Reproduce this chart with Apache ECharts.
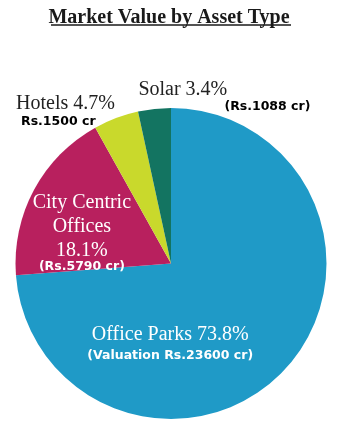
<!DOCTYPE html>
<html><head><meta charset="utf-8">
<script src="https://cdn.jsdelivr.net/npm/echarts@6/dist/echarts.min.js"></script>
<style>html,body{margin:0;padding:0;background:#fff}#c{width:338px;height:429px}</style>
</head><body><div id="c"></div>
<script>
const titleText = 'Market Value by Asset Type';
const categories = ['Office Parks', 'City Centric Offices', 'Hotels', 'Solar'];
const displayNames = ['Office Parks', 'City Centric\nOffices', 'Hotels', 'Solar'];
const values = [23600, 5790, 1500, 1088];
const valueLabels = ['(Valuation Rs.23600 cr)', '(Rs.5790 cr)', 'Rs.1500 cr', '(Rs.1088 cr)'];
const colors = ['#1f9ac7', '#b8205e', '#c9d92c', '#137461'];

const SERIF = "'Liberation Serif','Times New Roman',serif";
const SANS = "'DejaVu Sans',Verdana,sans-serif";

const labelCfg = [
  { offset: [-60, 25],
    rich: { n: { color: '#fff', fontFamily: SERIF, fontSize: 20, lineHeight: 24 },
            s: { color: '#fff', fontFamily: SANS, fontWeight: 'bold', fontSize: 12.5, lineHeight: 18 } },
    sep: ' ' },
  { offset: [-18, 6],
    rich: { n: { color: '#fff', fontFamily: SERIF, fontSize: 20, lineHeight: 24 },
            s: { color: '#fff', fontFamily: SANS, fontWeight: 'bold', fontSize: 12.5, lineHeight: 8 } },
    sep: '\n' },
  { offset: [-77, -76],
    rich: { n: { color: '#222', fontFamily: SERIF, fontSize: 20, lineHeight: 20, align: 'left' },
            s: { color: '#000', fontFamily: SANS, fontWeight: 'bold', fontSize: 12.5, lineHeight: 16, align: 'left', padding: [0, 0, 0, 5] } },
    sep: ' ' },
  { offset: [62, -86],
    rich: { n: { color: '#222', fontFamily: SERIF, fontSize: 20, lineHeight: 20, align: 'left', width: 172 },
            s: { color: '#000', fontFamily: SANS, fontWeight: 'bold', fontSize: 12.5, lineHeight: 15, align: 'right' } },
    sep: ' ' }
];

const data = categories.map((c, i) => ({
  name: c,
  value: values[i],
  itemStyle: { color: colors[i] },
  label: {
    position: 'inside',
    offset: labelCfg[i].offset,
    rich: labelCfg[i].rich,
    formatter: (p) => {
      const lines = (displayNames[i] + labelCfg[i].sep + p.percent.toFixed(1) + '%').split('\n');
      return lines.map(l => '{n|' + l + '}').join('\n') + '\n{s|' + valueLabels[i] + '}';
    }
  }
}));

const chart = echarts.init(document.getElementById('c'), null, { renderer: 'canvas' });
chart.setOption({
  animation: false,
  backgroundColor: '#fff',
  title: {
    text: titleText, left: 'center', top: 3,
    textStyle: { fontFamily: SERIF, fontWeight: 'bold', fontSize: 20, color: '#1a1a1a', lineHeight: 20 }
  },
  graphic: [{
    type: 'line', shape: { x1: 51, y1: 25, x2: 291, y2: 25 },
    style: { stroke: '#1a1a1a', lineWidth: 1.5 }
  }],
  series: [{
    type: 'pie',
    center: [171, 263.5],
    radius: 155.5,
    startAngle: 90,
    clockwise: true,
    percentPrecision: 1,
    avoidLabelOverlap: false,
    label: { show: true, position: 'inside' },
    labelLine: { show: false },
    itemStyle: { borderWidth: 0 },
    emphasis: { disabled: true },
    data: data
  }]
});
</script>
</body></html>
